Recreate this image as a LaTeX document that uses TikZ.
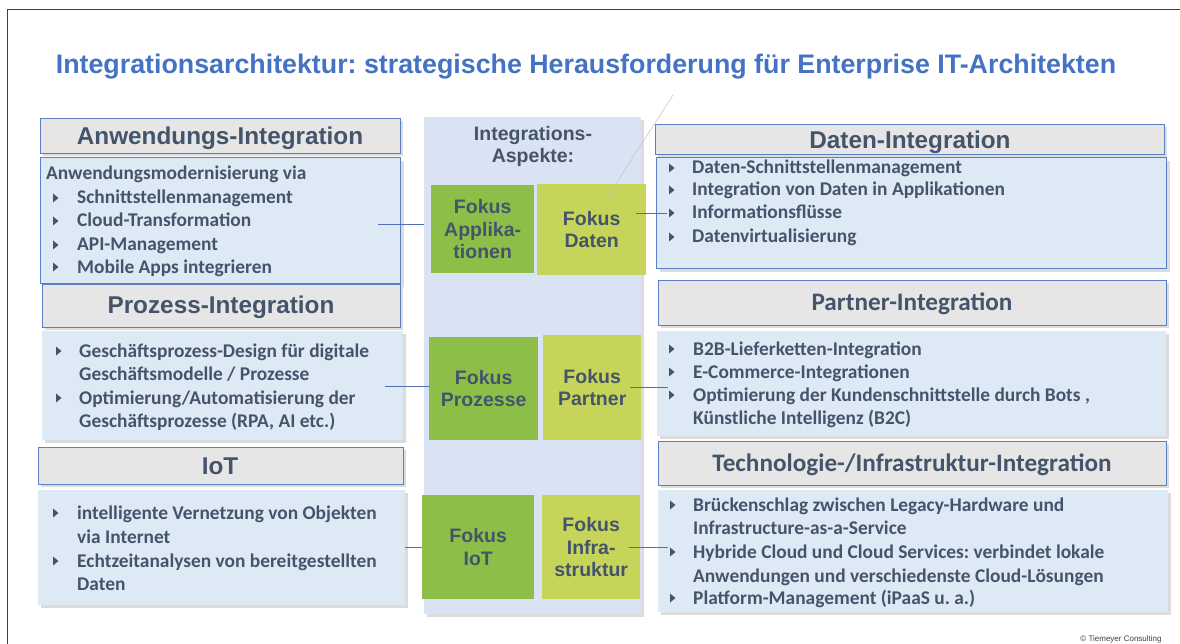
\documentclass[tikz,border=0pt]{standalone}
\usepackage{fontspec}
\setmainfont{Liberation Sans}
\newfontfamily\carl{Carlito}
\usetikzlibrary{shadows}
\frenchspacing
\definecolor{titleblue}{HTML}{4472C4}
\definecolor{txt}{HTML}{44546A}
\definecolor{hdrgray}{HTML}{E6E6E6}
\definecolor{bord}{HTML}{5B7EC5}
\definecolor{bodyblue}{HTML}{DEE9F6}
\definecolor{panelc}{HTML}{DAE3F3}
\definecolor{fgreen}{HTML}{8DBE48}
\definecolor{fyellow}{HTML}{C6D55A}
\definecolor{connc}{HTML}{4F71B3}
\definecolor{shad}{HTML}{DCDCDC}
\definecolor{framec}{HTML}{404040}
\newcommand\ftitle{\fontsize{26.8}{32}\selectfont\bfseries}
\newcommand\fhead{\fontsize{24.3}{29}\selectfont\bfseries}
\newcommand\fhcal{\carl\fontsize{25.2}{30}\selectfont\bfseries}
\newcommand\fbody{\carl\fontsize{19.4}{23}\selectfont\bfseries}
\newcommand\ffok{\fontsize{19.5}{22.5}\selectfont\bfseries}
\newcommand\mkbox[7]{\node[#6, anchor=north west, minimum width={(#4-#2)*1pt}, minimum height={(#5-#3)*1pt}] (#1) at (#2,-#3) {#7};}
\newcommand\bline[4]{\node[bodytxt, anchor=base west] (#1) at (#2,-#3-6) {#4};}
\newcommand\bmark[2]{\fill[txt] (#1,-#2+4.5) -- (#1+5.5,-#2) -- (#1,-#2-4.5) -- cycle;}
\tikzset{
  hdrbox/.style={rectangle, inner sep=0pt, fill=hdrgray, draw=bord, line width=1pt,
    general shadow={fill=shad, shadow xshift=2.5pt, shadow yshift=-2.5pt}},
  bodybox/.style={rectangle, inner sep=0pt, fill=bodyblue,
    general shadow={fill=shad, shadow xshift=3pt, shadow yshift=-3pt}},
  bodyframed/.style={bodybox, draw=bord, line width=1.2pt},
  fokg/.style={rectangle, inner sep=0pt, fill=fgreen, text=txt, font=\ffok, align=center},
  foky/.style={rectangle, inner sep=0pt, fill=fyellow, text=txt, font=\ffok, align=center},
  hdrtxt/.style={inner sep=0pt, text=txt, font=\fhead},
  hdrcal/.style={inner sep=0pt, text=txt, font=\fhcal},
  bodytxt/.style={inner sep=0pt, text=txt, font=\fbody},
  conn/.style={draw=connc, line width=1pt},
}
\begin{document}
\begin{tikzpicture}[x=1pt,y=1pt]
\useasboundingbox (0,0) rectangle (1180,-644);
\fill[white] (0,0) rectangle (1180,-644);
% frame
\coordinate (fr1) at (7,-644);
\coordinate (fr2) at (7,-10);
\coordinate (fr3) at (1180,-10);
\draw[framec, line width=1pt] (fr1) -- (fr2) -- (fr3);
% title
\node[inner sep=0pt, text=titleblue, font=\ftitle, anchor=base] (title) at (586,-74) {Integrationsarchitektur: strategische Herausforderung für Enterprise IT-Architekten};

% centre panel
\mkbox{panel}{424}{117}{641}{614}{rectangle, inner sep=0pt, fill=panelc, general shadow={fill=shad, shadow xshift=3pt, shadow yshift=-3pt}}{}
\node[inner sep=0pt, text=txt, font=\ffok, align=center, anchor=north] (aspekte) at (533,-126) {Integrations-\\Aspekte:};
\mkbox{fapp}{431}{185}{534}{273}{fokg}{Fokus\\Applika-\\tionen}
\mkbox{fdat}{537}{184}{646}{275}{foky}{Fokus\\Daten}
\mkbox{fpro}{429}{337}{538}{440}{fokg}{Fokus\\Prozesse}
\mkbox{fpar}{543}{335}{641}{440}{foky}{Fokus\\Partner}
\mkbox{fiot}{422}{495}{534}{599}{fokg}{Fokus\\IoT}
\mkbox{finf}{542}{495}{640}{599}{foky}{Fokus\\Infra-\\struktur}
% stray thin line
\coordinate (s1) at (608,-196);
\coordinate (s2) at (673,-95);
\draw[black!22, line width=0.6pt] (s1) -- (s2);

% left column
\mkbox{ah}{40}{118}{400}{153}{hdrbox}{}
\node[hdrtxt, anchor=base] (aht) at (220,-144.5) {Anwendungs-Integration};
\mkbox{ab}{40}{157}{400}{283}{bodyframed}{}
\bline{a0}{46}{174}{Anwendungsmodernisierung via}
\bmark{53}{198}\bline{a1}{77}{198}{Schnittstellenmanagement}
\bmark{53}{221}\bline{a2}{77}{221}{Cloud-Transformation}
\bmark{53}{245}\bline{a3}{77}{245}{API-Management}
\bmark{53}{267}\bline{a4}{77}{267}{Mobile Apps integrieren}

\mkbox{ph}{42}{284}{400}{327}{hdrbox}{}
\node[hdrtxt, anchor=base] (pht) at (221,-313.5) {Prozess-Integration};
\mkbox{pb}{42}{331}{403}{440}{bodybox}{}
\bmark{56}{351}\bline{p1}{79}{351}{Geschäftsprozess-Design für digitale}
\bline{p2}{79}{374}{Geschäftsmodelle / Prozesse}
\bmark{56}{398}\bline{p3}{79}{398}{Optimierung/Automatisierung der}
\bline{p4}{79}{421}{Geschäftsprozesse (RPA, AI etc.)}

\mkbox{ih}{38}{447}{403}{484}{hdrbox}{}
\node[hdrtxt, anchor=base] (iht) at (220,-474) {IoT};
\mkbox{ib}{38}{490}{405}{605}{bodybox}{}
\bmark{53}{513}\bline{i1}{77}{513}{intelligente Vernetzung von Objekten}
\bline{i2}{77}{537}{via Internet}
\bmark{53}{561}\bline{i3}{77}{561}{Echtzeitanalysen von bereitgestellten}
\bline{i4}{77}{584}{Daten}

% right column
\mkbox{dh}{655}{124}{1164}{154}{hdrbox}{}
\node[hdrtxt, anchor=base] (dht) at (910,-148.5) {Daten-Integration};
\mkbox{db}{656}{157}{1166}{268}{bodyframed}{}
\bmark{669}{168}\bline{d1}{692}{168}{Daten-Schnittstellenmanagement}
\bmark{669}{190}\bline{d2}{692}{190}{Integration von Daten in Applikationen}
\bmark{669}{213}\bline{d3}{692}{213}{Informationsflüsse}
\bmark{669}{237}\bline{d4}{692}{237}{Datenvirtualisierung}

\mkbox{rh}{658}{280}{1166}{325}{hdrbox}{}
\node[hdrcal, anchor=base] (rht) at (912,-310.5) {Partner-Integration};
\mkbox{rb}{657}{331}{1166}{436}{bodybox}{}
\bmark{669}{349}\bline{r1}{693}{349}{B2B-Lieferketten-Integration}
\bmark{669}{372}\bline{r2}{693}{372}{E-Commerce-Integrationen}
\bmark{669}{395}\bline{r3}{693}{395}{Optimierung der Kundenschnittstelle durch Bots ,}
\bline{r4}{693}{418}{Künstliche Intelligenz (B2C)}

\mkbox{th}{658}{441}{1166}{485}{hdrbox}{}
\node[hdrcal, anchor=base] (tht) at (912,-471.5) {Technologie-/Infrastruktur-Integration};
\mkbox{tb}{658}{490}{1168}{612}{bodybox}{}
\bmark{670}{505}\bline{t1}{693}{505}{Brückenschlag zwischen Legacy-Hardware und}
\bline{t2}{693}{528}{Infrastructure-as-a-Service}
\bmark{670}{552}\bline{t3}{693}{552}{Hybride Cloud und Cloud Services: verbindet lokale}
\bline{t4}{693}{576}{Anwendungen und verschiedenste Cloud-Lösungen}
\bmark{670}{598}\bline{t5}{693}{598}{Platform-Management (iPaaS u. a.)}

% connectors
\coordinate (ca) at (378,-225);
\draw[conn] (ca) -- (ca -| panel.west);
\coordinate (cp) at (385,-386);
\draw[conn] (cp) -- (cp -| fpro.west);
\coordinate (ci) at (405,-547);
\draw[conn] (ci) -- (ci -| fiot.west);
\coordinate (cd1) at (636,-214);
\coordinate (cd2) at (667,-214);
\draw[conn] (cd1) -- (cd2);
\coordinate (cr1) at (630,-387);
\coordinate (cr2) at (668,-387);
\draw[conn] (cr1) -- (cr2);
\coordinate (ct1) at (629,-547);
\coordinate (ct2) at (668,-547);
\draw[conn] (ct1) -- (ct2);

% footer
\node[inner sep=0pt, text=black!75, font=\fontsize{8}{9}\selectfont, anchor=base] (foot) at (1121,-641.5) {© Tiemeyer Consulting};
\end{tikzpicture}
\end{document}
